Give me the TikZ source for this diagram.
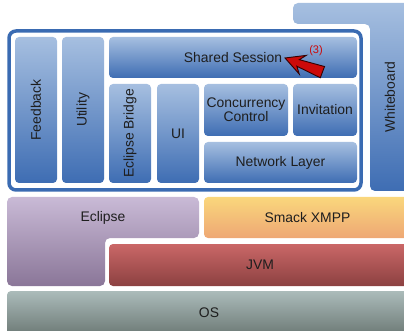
\documentclass[tikz,border=0pt]{standalone}
\usepackage{fontspec}
\setmainfont{Liberation Sans}
\usepackage{tikz}

\definecolor{blueTop}{HTML}{A6BFE0}
\definecolor{blueBot}{HTML}{3E6DB3}
\definecolor{frameBlue}{HTML}{3A6BB2}
\definecolor{eclTop}{HTML}{C9BAD6}
\definecolor{eclBot}{HTML}{8A7698}
\definecolor{smackTop}{HTML}{FAD77C}
\definecolor{smackBot}{HTML}{EEA774}
\definecolor{jvmTop}{HTML}{CA6767}
\definecolor{jvmBot}{HTML}{8C4141}
\definecolor{osTop}{HTML}{ABBBBA}
\definecolor{osBot}{HTML}{6D7A76}
\definecolor{txt}{HTML}{1E1E1E}
\definecolor{arrowRed}{HTML}{CC0A0A}

\tikzset{
  layer/.style={rectangle,rounded corners=4pt,inner sep=0pt,outer sep=0pt,
                text=txt,align=center,font=\fontsize{13.9}{12.5}\selectfont},
  bluebox/.style={layer,top color=blueTop,bottom color=blueBot},
  frameline/.style={draw=frameBlue,line width=3.5pt,rounded corners=7pt},
  redarrow/.style={fill=arrowRed,draw=black!80!red,line width=0.9pt,line join=miter}
}

\begin{document}
\begin{tikzpicture}[x=1pt,y=-1pt]
            \useasboundingbox (0,0) rectangle (404,331);

            % plugin + platform layers
            \shade[top color=blueTop,bottom color=blueBot,rounded corners=5pt]
                (293,3) -- (411,3) -- (411,191) -- (370,191) -- (370,24) -- (293,24) -- cycle;
            \node[layer] (whiteboard) at (390,97) {\rotatebox{90}{Whiteboard}};

            \shade[top color=eclTop,bottom color=eclBot,rounded corners=5pt]
                (7,197) -- (199,197) -- (199,238) -- (105,238) -- (105,286) -- (7,286) -- cycle;
            \node[layer] (eclipse) at (103,217.5) {Eclipse};

            \node[layer,top color=smackTop,bottom color=smackBot,minimum width=207pt,minimum height=41pt]
                (smack) at (307.5,217.5) {Smack XMPP};
            \node[layer,top color=jvmTop,bottom color=jvmBot,minimum width=302pt,minimum height=42pt]
                (jvm) at (260,265) {JVM};
            \node[layer,top color=osTop,bottom color=osBot,minimum width=404pt,minimum height=44pt]
                (os) at (209,313) {OS};

            % saros core
            \draw[frameline] (9,31) rectangle (361,190);
            \begin{scope}[every node/.style={bluebox}]
                \node[minimum width=42pt,minimum height=146pt] (feedback) at (36,110) {\rotatebox{90}{Feedback}};
                \node[minimum width=42pt,minimum height=146pt] (utility) at (83,110) {\rotatebox{90}{Utility}};
                \node[minimum width=248pt,minimum height=41pt] (session) at (233,57.5) {Shared Session};
                \node[minimum width=42pt,minimum height=99pt] (bridge) at (130,133.5) {\rotatebox{90}{Eclipse Bridge}};
                \node[minimum width=42pt,minimum height=99pt] (ui) at (178,133.5) {UI};
                \node[minimum width=84pt,minimum height=52pt] (concurrency) at (246,110) {Concurrency\\Control};
                \node[minimum width=64pt,minimum height=52pt] (invitation) at (325,110) {Invitation};
                \node[minimum width=153pt,minimum height=41pt] (network) at (280.5,162.5) {Network Layer};
            \end{scope}

            % marker
            \coordinate (tip) at (285,58);
            \filldraw[redarrow,shift={(tip)},rotate=159.3]
                (0,0) -- (-19,10) -- (-14,3.5) -- (-40,6) -- (-40,-6) -- (-14,-3.5) -- (-19,-10) -- cycle;
            \node[text=arrowRed,font=\fontsize{11}{12}\selectfont] (mark) at (316,51) {(3)};
\end{tikzpicture}
\end{document}
